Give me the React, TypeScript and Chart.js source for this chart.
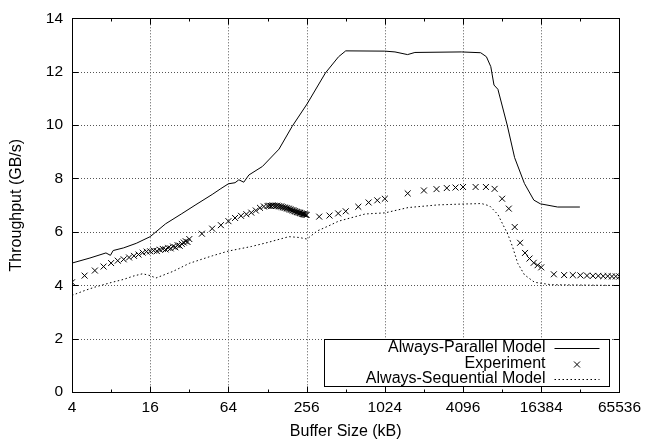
import React, { useEffect, useRef } from 'react';
import { Chart, registerables } from 'chart.js';

Chart.register(...registerables);

const FONT = '"Liberation Sans", Arial, Helvetica, sans-serif';

// Axis ticks
const X_TICKS = [4, 16, 64, 256, 1024, 4096, 16384, 65536];
const X_MINOR_TICKS = [8, 32, 128, 512, 2048, 8192, 32768];
const Y_TICKS = [0, 2, 4, 6, 8, 10, 12, 14];

// Always-Parallel Model
const PARALLEL_KB = [4, 5.5, 7.3, 7.9, 8.3, 10, 12.5, 16, 21, 28, 36, 48, 56, 64, 72, 77, 84, 92, 117, 157, 198, 258, 357, 451, 512, 1024, 1226, 1532, 1745, 3980, 5600, 6200, 6700, 7090, 7600, 8960, 10220, 12170, 14360, 16130, 21900, 32500];
const PARALLEL_GBS = [4.83, 5.02, 5.21, 5.12, 5.3, 5.4, 5.57, 5.82, 6.3, 6.68, 7.02, 7.4, 7.62, 7.8, 7.84, 7.95, 7.86, 8.13, 8.45, 9.1, 9.95, 10.79, 11.95, 12.56, 12.78, 12.77, 12.74, 12.64, 12.72, 12.74, 12.71, 12.56, 12.19, 11.5, 11.34, 10.0, 8.78, 7.81, 7.19, 7.05, 6.93, 6.93];

// Experiment
const EXPERIMENT_KB = [
  4, 5, 6, 7, 8, 9, 10, 11, 12, 13, 14, 15, 16, 17, 18, 19, 20, 21, 22, 23, 24, 25, 26, 27, 28, 29, 30, 31, 32,
  40, 48, 56, 64, 72, 80, 88, 96, 104, 112, 120, 128,
  132, 136, 140, 144, 148, 152, 156, 160, 164, 168, 172, 176, 180, 184, 188, 192, 196, 200, 204, 208, 212, 216, 220, 224, 228, 232, 236, 240, 244, 248, 252, 256,
  320, 384, 448, 512, 640, 768, 896, 1024,
  1536, 2048, 2560, 3072, 3584, 4096,
  5120, 6144, 7168, 8192, 9216, 10240, 11264, 12288, 13312, 14336, 15360, 16384,
  20480, 24576, 28672, 32768, 36864, 40960, 45056, 49152, 53248, 57344, 61440, 65536,
];
const EXPERIMENT_GBS = [
  4.11, 4.36, 4.55, 4.7, 4.83, 4.92, 4.97, 5.04, 5.1, 5.15, 5.22, 5.26, 5.27, 5.3, 5.28, 5.33, 5.36, 5.34, 5.4, 5.38, 5.45, 5.42, 5.5, 5.48, 5.55, 5.6, 5.65, 5.62, 5.73,
  5.93, 6.12, 6.25, 6.4, 6.52, 6.6, 6.66, 6.72, 6.8, 6.9, 6.95, 6.97,
  6.98, 6.97, 6.99, 6.98, 6.97, 6.98, 6.96, 6.95, 6.94, 6.92, 6.91, 6.9, 6.88, 6.87, 6.85, 6.84, 6.82, 6.8, 6.79, 6.77, 6.76, 6.74, 6.73, 6.72, 6.71, 6.69, 6.68, 6.67, 6.66, 6.65, 6.64, 6.63,
  6.57, 6.61, 6.69, 6.77, 6.94, 7.1, 7.18, 7.24,
  7.44, 7.55, 7.6, 7.64, 7.66, 7.68,
  7.68, 7.68, 7.61, 7.24, 6.87, 6.18, 5.59, 5.21, 5.0, 4.84, 4.75, 4.67,
  4.41, 4.38, 4.38, 4.37, 4.36, 4.35, 4.35, 4.34, 4.34, 4.33, 4.33, 4.33,
];

// Always-Sequential Model
const SEQUENTIAL_KB = [4, 5, 6, 8, 10, 12, 14, 16, 17.7, 24, 32, 38, 48, 64, 96, 128, 187, 223, 258, 308, 377, 451, 724, 1024, 1550, 2630, 3980, 5680, 6570, 7600, 8290, 9060, 9870, 10800, 12170, 14550, 19470, 65536];
const SEQUENTIAL_GBS = [3.62, 3.8, 3.93, 4.1, 4.22, 4.35, 4.43, 4.36, 4.27, 4.52, 4.82, 4.94, 5.1, 5.28, 5.45, 5.6, 5.82, 5.79, 5.73, 6.03, 6.22, 6.4, 6.67, 6.71, 6.91, 7.01, 7.04, 7.06, 6.97, 6.65, 6.28, 5.91, 5.43, 4.82, 4.39, 4.11, 4.02, 3.99];

const LABELS = ['Always-Parallel Model', 'Experiment', 'Always-Sequential Model'];

const toPoints = (xs: number[], ys: number[]) => xs.map((x, i) => ({ x, y: ys[i] }));

const framePlugin = {
  id: 'gnuframe',
  beforeDatasetsDraw(chart: any) {
    const { ctx, chartArea: a, scales } = chart;
    const xs = scales.x;
    const ys = scales.y;
    ctx.save();
    ctx.strokeStyle = '#555';
    ctx.lineWidth = 1;
    ctx.setLineDash([1, 2]);
    X_TICKS.slice(1, -1).forEach((v) => {
      const px = Math.round(xs.getPixelForValue(v)) + 0.5;
      ctx.beginPath();
      ctx.moveTo(px, a.top);
      ctx.lineTo(px, a.bottom);
      ctx.stroke();
    });
    Y_TICKS.slice(1, -1).forEach((v) => {
      const py = Math.round(ys.getPixelForValue(v)) + 0.5;
      ctx.beginPath();
      ctx.moveTo(a.left, py);
      ctx.lineTo(a.right, py);
      ctx.stroke();
    });
    ctx.restore();
  },
  afterDatasetsDraw(chart: any) {
    const { ctx, chartArea: a, scales } = chart;
    const xs = scales.x;
    const ys = scales.y;
    ctx.save();
    ctx.strokeStyle = '#000';
    ctx.lineWidth = 1;
    ctx.setLineDash([]);
    const seg = (x1: number, y1: number, x2: number, y2: number) => {
      ctx.beginPath();
      ctx.moveTo(x1, y1);
      ctx.lineTo(x2, y2);
      ctx.stroke();
    };
    const L = Math.round(a.left) + 0.5;
    const R = Math.round(a.right) + 0.5;
    const T = Math.round(a.top) + 0.5;
    const B = Math.round(a.bottom) + 0.5;
    // ticks
    X_TICKS.forEach((v) => {
      const px = Math.round(xs.getPixelForValue(v)) + 0.5;
      seg(px, B, px, B - 6);
      seg(px, T, px, T + 6);
    });
    X_MINOR_TICKS.forEach((v) => {
      const px = Math.round(xs.getPixelForValue(v)) + 0.5;
      seg(px, B, px, B - 3);
      seg(px, T, px, T + 3);
    });
    Y_TICKS.forEach((v) => {
      const py = Math.round(ys.getPixelForValue(v)) + 0.5;
      seg(L, py, L + 6, py);
      seg(R, py, R - 6, py);
    });
    // border
    ctx.strokeRect(L, T, R - L, B - T);

    // legend (opaque box)
    const boxL = L + 252;
    const boxR = R - 10;
    const boxT = Math.round(ys.getPixelForValue(2)) + 0.5;
    const boxB = B - 6;
    ctx.fillStyle = '#fff';
    ctx.fillRect(boxL, boxT, boxR - boxL, boxB - boxT);
    ctx.strokeRect(boxL, boxT, boxR - boxL, boxB - boxT);
    const textR = boxR - 64;
    const sx1 = boxR - 55;
    const sx2 = boxR - 10;
    const rows = [boxT + 8, boxT + 24, boxT + 39.5];
    ctx.font = `16px ${FONT}`;
    ctx.fillStyle = '#000';
    ctx.textAlign = 'right';
    ctx.textBaseline = 'middle';
    chart.data.datasets.forEach((ds: any, i: number) => {
      const yy = rows[i];
      ctx.fillText(ds.label, textR, yy);
      const ly = Math.round(yy) + 0.5;
      if (i === 0) {
        ctx.setLineDash([]);
        seg(sx1, ly, sx2, ly);
      } else if (i === 1) {
        const cx = (sx1 + sx2) / 2;
        const r = 3;
        ctx.setLineDash([]);
        seg(cx - r, ly - r, cx + r, ly + r);
        seg(cx - r, ly + r, cx + r, ly - r);
      } else {
        ctx.setLineDash([1.5, 2.5]);
        seg(sx1, ly, sx2, ly);
        ctx.setLineDash([]);
      }
    });
    ctx.restore();
  },
};

export default function App() {
  const ref = useRef<HTMLCanvasElement>(null);
  useEffect(() => {
    const canvas = ref.current;
    if (!canvas) return;
    const chart = new Chart(canvas, {
      type: 'line',
      data: {
        datasets: [
          {
            label: LABELS[0],
            data: toPoints(PARALLEL_KB, PARALLEL_GBS),
            borderColor: '#000',
            borderWidth: 1,
            pointRadius: 0,
            tension: 0,
            fill: false,
          },
          {
            label: LABELS[1],
            data: toPoints(EXPERIMENT_KB, EXPERIMENT_GBS),
            showLine: false,
            borderColor: '#000',
            backgroundColor: '#000',
            pointStyle: 'crossRot',
            pointRadius: 4.2,
            pointBorderWidth: 1,
            pointBorderColor: '#000',
          },
          {
            label: LABELS[2],
            data: toPoints(SEQUENTIAL_KB, SEQUENTIAL_GBS),
            borderColor: '#000',
            borderWidth: 1,
            borderDash: [1.5, 2.5],
            pointRadius: 0,
            tension: 0,
            fill: false,
          },
        ],
      },
      options: {
        animation: false,
        responsive: false,
        devicePixelRatio: 1,
        layout: { padding: { left: 0, right: 25, top: 9.5, bottom: 0 } },
        plugins: { legend: { display: false }, tooltip: { enabled: false } },
        scales: {
          x: {
            type: 'logarithmic',
            min: 4,
            max: 65536,
            afterBuildTicks: (s: any) => {
              s.ticks = X_TICKS.map((v) => ({ value: v }));
            },
            afterFit: (s: any) => {
              s.height = 52;
            },
            grid: { display: false, drawTicks: false },
            border: { display: false },
            ticks: {
              autoSkip: false,
              maxRotation: 0,
              padding: 6,
              color: '#000',
              font: { family: FONT, size: 15.5 },
              callback: (v: any) => String(v),
            },
            title: {
              display: true,
              text: 'Buffer Size (kB)',
              color: '#000',
              font: { family: FONT, size: 16 },
              padding: { top: 0, bottom: 3 },
            },
          },
          y: {
            type: 'linear',
            min: 0,
            max: 14,
            afterBuildTicks: (s: any) => {
              s.ticks = Y_TICKS.map((v) => ({ value: v }));
            },
            afterFit: (s: any) => {
              s.width = 72;
            },
            grid: { display: false, drawTicks: false },
            border: { display: false },
            ticks: {
              padding: 9,
              color: '#000',
              font: { family: FONT, size: 15.5 },
              callback: (v: any) => String(v),
            },
            title: {
              display: true,
              text: 'Throughput (GB/s)',
              color: '#000',
              font: { family: FONT, size: 16 },
              padding: { top: 7, bottom: 0 },
            },
          },
        },
      },
      plugins: [framePlugin],
    } as any);
    return () => chart.destroy();
  }, []);
  return (
    <div style={{ position: 'absolute', left: 0, top: 0, width: 647, height: 444, background: '#fff' }}>
      <canvas ref={ref} width={647} height={444} style={{ display: 'block' }} />
    </div>
  );
}
